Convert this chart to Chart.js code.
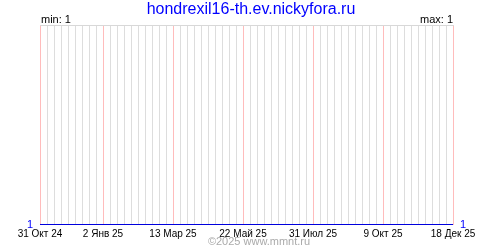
<!DOCTYPE html>
<html>
<head>
<meta charset="utf-8">
<script src="https://cdn.jsdelivr.net/npm/chart.js@4.4.1/dist/chart.umd.min.js"></script>
<style>
  html, body { margin: 0; padding: 0; background: #fff; }
  #wrap { position: relative; width: 500px; height: 250px; }
</style>
</head>
<body>
<div id="wrap"><canvas id="canvas" width="500" height="250"></canvas></div>
<script>
// data
var startDate = '2024-10-31';
var endDate = '2025-12-18';
var seriesDates = ['2024-10-31', '2025-12-18'];
var seriesValues = [1, 1];
var tickDates = ['2024-10-31', '2025-01-02', '2025-03-13', '2025-05-22', '2025-07-31', '2025-10-09', '2025-12-18'];
var tickLabels = ['31 Окт 24', '2 Янв 25', '13 Мар 25', '22 Май 25', '31 Июл 25', '9 Окт 25', '18 Дек 25'];
var chartTitle = 'hondrexil16-th.ev.nickyfora.ru';
var minText = 'min: 1';
var maxText = 'max: 1';
var footerText = '©2025 www.mmnt.ru';

function dayNum(s) {
    return Math.round((Date.parse(s) - Date.parse(startDate)) / 86400000);
}

var lastDay = dayNum(endDate);
var labelDays = tickDates.map(dayNum);

var points = seriesDates.map(function(d, i) {
    return { x: dayNum(d), y: seriesValues[i] };
});

var font = "'Liberation Sans', Arial, sans-serif";

var textPlugin = {
    id: 'texts',
    afterDraw: function(chart) {
	var c = chart.ctx;
	var area = chart.chartArea;
	c.save();
	c.textBaseline = 'alphabetic';
	c.fillStyle = '#0000ff';
	c.font = '16px ' + font;
	c.textAlign = 'center';
	c.fillText(chartTitle, 251, 14);
	c.fillStyle = '#000';
	c.font = '11px ' + font;
	c.textAlign = 'left';
	c.fillText(minText, area.left + 1, 23);
	c.textAlign = 'right';
	c.fillText(maxText, area.right, 23);
	c.fillStyle = '#aaaaaa';
	c.textAlign = 'center';
	c.fillText(footerText, 259, 245);
	c.restore();
    }
};

function yAxis(pos, w) {
    return {
	position: pos,
	min: 1,
	max: 2,
	border: { display: false },
	grid: { drawTicks: false, drawOnChartArea: false },
	afterBuildTicks: function(scale) {
	    scale.ticks = [{ value: 1 }];
	},
	afterFit: function(scale) {
	    scale.width = w;
	},
	ticks: {
	    color: '#0000ff',
	    padding: 7,
	    font: { size: 11, family: font }
	}
    };
}

var ctx = document.getElementById('canvas').getContext('2d');

var myChart = new Chart(ctx, {
    type: 'line',
    data: {
	datasets: [{
	    data: points,
	    borderColor: '#0000dd',
	    borderWidth: 2,
	    pointRadius: 0,
	    fill: false,
	    tension: 0
	}]
    },
    options: {
	responsive: false,
	animation: false,
	layout: { padding: { top: 25, left: 0, right: 0, bottom: 0 } },
	plugins: {
	    legend: { display: false },
	    tooltip: { enabled: false }
	},
	scales: {
	    x: {
		type: 'linear',
		min: 0,
		max: lastDay,
		border: { display: false },
		afterBuildTicks: function(scale) {
		    var t = [];
		    for (var d = 0; d <= lastDay; d += 7) t.push({ value: d });
		    scale.ticks = t;
		},
		afterFit: function(scale) {
		    scale.height = 25;
		},
		grid: {
		    drawTicks: false,
		    color: function(c) {
			return labelDays.indexOf(c.tick.value) >= 0 ? '#ffbcbc' : '#dddddd';
		    }
		},
		ticks: {
		    autoSkip: false,
		    maxRotation: 0,
		    color: '#000',
		    padding: 3,
		    font: { size: 10, family: font },
		    callback: function(v) {
			var i = labelDays.indexOf(v);
			return i >= 0 ? tickLabels[i] : '';
		    }
		}
	    },
	    xTop: {
		type: 'linear',
		position: 'top',
		min: 0,
		max: lastDay,
		border: { display: true, color: '#d8d8d8', width: 1 },
		grid: { drawOnChartArea: false, drawTicks: false },
		ticks: { display: false },
		afterFit: function(scale) {
		    scale.height = 0;
		}
	    },
	    y: yAxis('left', 40),
	    y2: yAxis('right', 47)
	}
    },
    plugins: [textPlugin]
});
</script>
</body>
</html>
